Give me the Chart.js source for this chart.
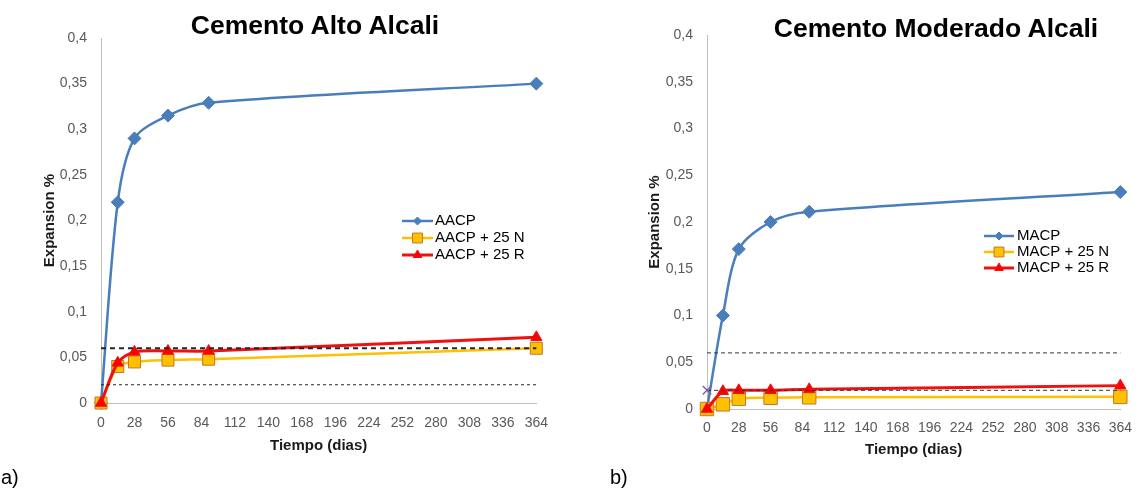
<!DOCTYPE html>
<html>
<head>
<meta charset="utf-8">
<script src="https://cdn.jsdelivr.net/npm/chart.js@4/dist/chart.umd.min.js"></script>
<style>
  body { margin: 0; background: #fff; font-family: "Liberation Sans", Arial, sans-serif; }
  #page { position: relative; width: 1143px; height: 491px; overflow: hidden; }
  .box { position: absolute; top: 0; height: 491px; }
  .title { position: absolute; font-weight: bold; font-size: 26.5px; white-space: nowrap; transform: translate(-50%, -50%); color: #000; }
  .tag { position: absolute; font-size: 20px; color: #000; transform: translateY(-50%); }
</style>
</head>
<body>
<div id="page">
  <div class="box" style="left:0;width:560px"><canvas id="chartA"></canvas></div>
  <div class="box" style="left:580px;width:563px"><canvas id="chartB"></canvas></div>
  <div class="title" style="left:315px;top:25px">Cemento Alto Alcali</div>
  <div class="title" style="left:936px;top:28px">Cemento Moderado Alcali</div>
  <div class="tag" style="left:1px;top:477px">a)</div>
  <div class="tag" style="left:610px;top:477px">b)</div>
</div>
<script>
// edad de las probetas (dias)
var days = [0, 14, 28, 56, 90, 364];

// a) cemento alto alcali
var aacp = [0, 0.22, 0.29, 0.315, 0.329, 0.35];
var aacp25N = [0, 0.04, 0.045, 0.047, 0.048, 0.06];
var aacp25R = [0, 0.044, 0.056, 0.057, 0.057, 0.072];

// b) cemento moderado alcali
var macp = [0, 0.1, 0.171, 0.2, 0.211, 0.232];
var macp25N = [0, 0.005, 0.011, 0.012, 0.0125, 0.013];
var macp25R = [0, 0.019, 0.02, 0.02, 0.021, 0.025];

// limites (lineas punteadas)
var limitDays = [0, 364];
var limitHigh = [0.06, 0.06];
var limitLow = [0.02, 0.02];

var yTickLabels = ['0', '0,05', '0,1', '0,15', '0,2', '0,25', '0,3', '0,35', '0,4'];

Chart.defaults.font.family = '"Liberation Sans", Arial, sans-serif';
Chart.defaults.animation = false;

function points(x, y) {
  return x.map(function(d, i) { return {x: d, y: y[i]}; });
}

// leyenda dibujada dentro del area del grafico
var inlineLegend = {
  id: 'inlineLegend',
  afterDatasetsDraw: function(chart, args, opts) {
    var ctx = chart.ctx;
    var items = chart.data.datasets.filter(function(d) { return d.inLegend; });
    ctx.save();
    ctx.font = opts.font;
    ctx.textBaseline = 'middle';
    items.forEach(function(d, i) {
      var y = opts.y + i * opts.rowHeight;
      ctx.setLineDash([]);
      ctx.strokeStyle = d.borderColor;
      ctx.lineWidth = d.borderWidth;
      ctx.beginPath();
      ctx.moveTo(opts.x, y);
      ctx.lineTo(opts.x + opts.lineLength, y);
      ctx.stroke();
      ctx.fillStyle = d.pointBackgroundColor;
      ctx.strokeStyle = d.pointBorderColor;
      ctx.lineWidth = d.pointBorderWidth;
      Chart.helpers.drawPoint(ctx, {pointStyle: d.pointStyle, radius: d.legendRadius, rotation: 0, borderWidth: d.pointBorderWidth}, opts.x + opts.lineLength / 2, y);
      ctx.fillStyle = opts.color;
      ctx.fillText(d.label, opts.x + opts.lineLength + opts.gap, y);
    });
    ctx.restore();
  }
};

function makeChart(id, names, series, lay) {
  var ctx = document.getElementById(id).getContext('2d');
  return new Chart(ctx, {
    type: 'line',
    data: {
      datasets: [{
        label: names[0],
        data: points(days, series[0]),
        inLegend: true,
        order: 3,
        clip: false,
        borderColor: '#4a7ebb',
        borderWidth: 2.5,
        pointStyle: 'rectRot',
        pointRadius: lay.diamond,
        legendRadius: 4,
        pointBackgroundColor: '#4a7ebb',
        pointBorderColor: '#4a7ebb',
        pointBorderWidth: 1,
        tension: 0.3
      }, {
        label: names[1],
        data: points(days, series[1]),
        inLegend: true,
        order: 2,
        clip: false,
        borderColor: '#ffc000',
        borderWidth: 2.5,
        pointStyle: 'rect',
        pointRadius: lay.square,
        legendRadius: 7,
        pointBackgroundColor: '#ffc000',
        pointBorderColor: '#c0782a',
        pointBorderWidth: 1,
        tension: 0.3
      }, {
        label: names[2],
        data: points(days, series[2]),
        inLegend: true,
        order: 1,
        clip: false,
        borderColor: '#ee1111',
        borderWidth: 3,
        pointStyle: 'triangle',
        pointRadius: lay.triangle,
        legendRadius: 5,
        pointBackgroundColor: '#ff0000',
        pointBorderColor: '#ee1111',
        pointBorderWidth: 1,
        tension: 0.3
      }, {
        label: 'limite 0,06',
        data: points(limitDays, limitHigh),
        order: 0,
        clip: false,
        borderColor: lay.dashColor,
        borderWidth: lay.highWidth,
        borderDash: lay.highDash,
        pointRadius: 0
      }, {
        label: 'limite 0,02',
        data: points(limitDays, limitLow),
        order: 0,
        clip: false,
        borderColor: lay.dashColor,
        borderWidth: lay.lowWidth,
        borderDash: lay.lowDash,
        pointStyle: 'crossRot',
        pointRadius: [lay.cross, 0],
        pointBorderColor: '#8064a2',
        pointBorderWidth: 1.5
      }]
    },
    options: {
      responsive: true,
      maintainAspectRatio: false,
      layout: {
        padding: {top: lay.top, right: lay.right, bottom: lay.bottom, left: 0}
      },
      plugins: {
        legend: {display: false},
        tooltip: {enabled: false},
        inlineLegend: lay.legend
      },
      scales: {
        x: {
          type: 'linear',
          min: 0,
          max: 364,
          grid: {display: false, drawTicks: false},
          border: {display: true, color: '#bfbfbf', width: 1},
          ticks: {stepSize: 28, padding: lay.xPad, color: '#595959', font: {size: 14}, maxRotation: 0, autoSkip: false},
          title: {display: true, text: 'Tiempo (dias)', color: '#1a1a1a', font: {size: 15, weight: 'bold'}, padding: {top: 0, bottom: 4}},
          afterFit: function(scale) { scale.height = lay.xHeight; }
        },
        y: {
          min: 0,
          max: 0.4,
          grid: {display: false, drawTicks: false},
          border: {display: true, color: '#bfbfbf', width: 1},
          ticks: {
            stepSize: 0.05,
            padding: 14,
            color: '#595959',
            font: {size: 14},
            callback: function(value, index) { return yTickLabels[index]; }
          },
          title: {display: true, text: 'Expansion %', color: '#1a1a1a', font: {size: 15, weight: 'bold'}, padding: {top: lay.yTitle, bottom: 0}},
          afterFit: function(scale) { scale.width = lay.yWidth; }
        }
      }
    },
    plugins: [inlineLegend]
  });
}

makeChart('chartA', ['AACP', 'AACP + 25 N', 'AACP + 25 R'], [aacp, aacp25N, aacp25R], {
  top: 38, right: 23, bottom: 32, xHeight: 56, yWidth: 101, xPad: 12, yTitle: 41,
  diamond: 6.5, square: 8.5, triangle: 6.5, cross: 0,
  dashColor: '#262626', highWidth: 2, highDash: [5, 4], lowWidth: 1.2, lowDash: [3, 3],
  legend: {x: 402, y: 221, rowHeight: 17, lineLength: 31, gap: 2, font: '15px "Liberation Sans", Arial, sans-serif', color: '#000'}
});

makeChart('chartB', ['MACP', 'MACP + 25 N', 'MACP + 25 R'], [macp, macp25N, macp25R], {
  top: 35, right: 15, bottom: 28, xHeight: 54, yWidth: 127, xPad: 11, yTitle: 66,
  diamond: 6.5, square: 9.5, triangle: 6.5, cross: 6,
  dashColor: '#333333', highWidth: 1, highDash: [4, 3], lowWidth: 1, lowDash: [4, 3],
  legend: {x: 404, y: 236, rowHeight: 16, lineLength: 30, gap: 3, font: '15px "Liberation Sans", Arial, sans-serif', color: '#000'}
});
</script>
</body>
</html>
